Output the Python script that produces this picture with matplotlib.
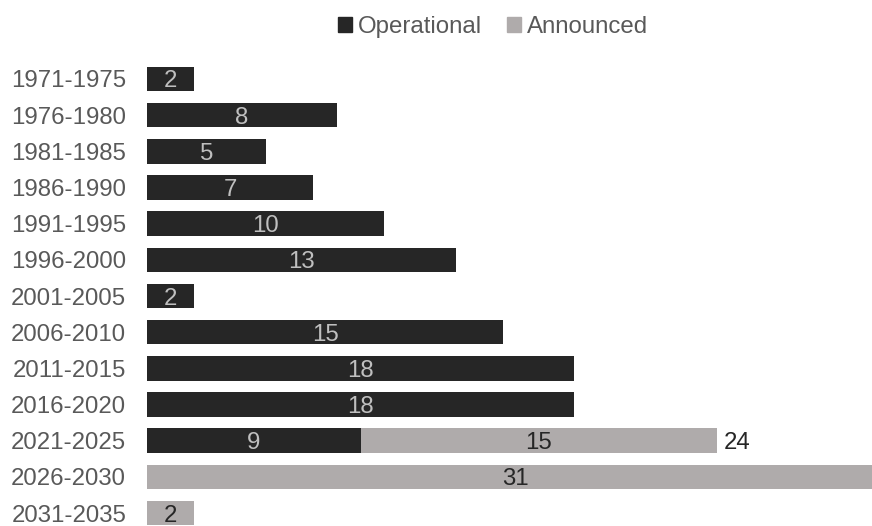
import numpy as np
import matplotlib
matplotlib.use("Agg")
import matplotlib.pyplot as plt
from matplotlib.patches import Patch

plt.rcParams['font.family'] = ['Liberation Sans', 'DejaVu Sans']

periods = ["1971-1975", "1976-1980", "1981-1985", "1986-1990", "1991-1995",
           "1996-2000", "2001-2005", "2006-2010", "2011-2015", "2016-2020",
           "2021-2025", "2026-2030", "2031-2035"]
operational = [2, 8, 5, 7, 10, 13, 2, 15, 18, 18, 9, 0, 0]
announced = [0, 0, 0, 0, 0, 0, 0, 0, 0, 0, 15, 31, 2]

dark = "#262626"
grey = "#AFABAB"
text_grey = "#595959"
fs = 17.3

fig = plt.figure(figsize=(8.72, 5.26), dpi=100)
ax = fig.add_axes([147 / 872, 0, 1 - 147 / 872, 1])

y = np.arange(len(periods))
op = np.array(operational)
an = np.array(announced)
ax.barh(y, op, height=0.68, color=dark)
ax.barh(y, an, left=op, height=0.68, color=grey)

for i in range(len(periods)):
    if op[i] > 0:
        ax.text(op[i] / 2, y[i], str(op[i]), ha="center", va="center_baseline",
                color="#BFBFBF", fontsize=fs)
    if an[i] > 0:
        ax.text(op[i] + an[i] / 2, y[i], str(an[i]), ha="center", va="center_baseline",
                color=dark, fontsize=fs)
    # total shown only where both series are present
    if op[i] > 0 and an[i] > 0:
        ax.text(op[i] + an[i] + 0.3, y[i], str(op[i] + an[i]), ha="left",
                va="center_baseline", color=dark, fontsize=fs)

ax.set_xlim(0, 30.53)
ax.set_ylim(12.358, -2.184)
ax.set_yticks(y)
ax.set_yticklabels(periods, fontsize=fs, color=text_grey)
ax.tick_params(axis="y", length=0, pad=15)
ax.set_xticks([])
for s in ax.spines.values():
    s.set_visible(False)

handles = [Patch(color=dark, label="Operational"), Patch(color=grey, label="Announced")]
fig.legend(handles=handles, loc="center", bbox_to_anchor=(493 / 872, 1 - 27 / 526),
           ncol=2, frameon=False, fontsize=fs, labelcolor=text_grey,
           handlelength=0.6, handleheight=0.6, handletextpad=0.25, columnspacing=1.0)

fig.savefig("out.png", dpi=100)
